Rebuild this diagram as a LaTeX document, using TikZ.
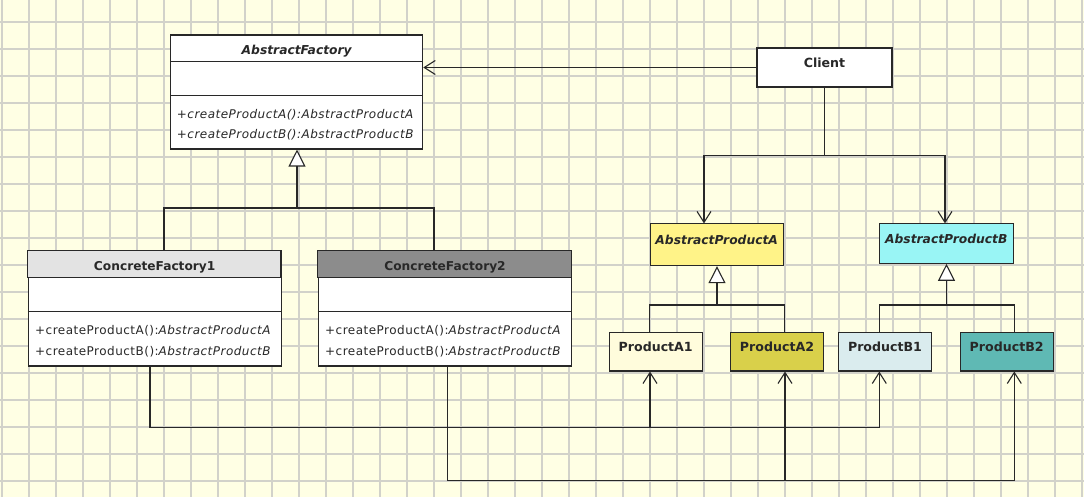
\documentclass[tikz,border=0pt]{standalone}
\usepackage{fontspec}
\setmainfont{DejaVu Sans}
\newfontfamily\methfont{DejaVu Sans}[LetterSpace=4]
\usetikzlibrary{arrows.meta}
\definecolor{paper}{RGB}{255,255,228}
\definecolor{gridgray}{RGB}{210,210,202}
\definecolor{ink}{RGB}{40,40,40}
\definecolor{hdrlight}{RGB}{227,227,227}
\definecolor{hdrdark}{RGB}{140,140,140}
\definecolor{prodA}{RGB}{255,243,136}
\definecolor{prodB}{RGB}{153,245,245}
\definecolor{prodAone}{RGB}{255,252,220}
\definecolor{prodAtwo}{RGB}{217,208,74}
\definecolor{prodBone}{RGB}{218,236,238}
\definecolor{prodBtwo}{RGB}{95,185,180}

\begin{document}
\begin{tikzpicture}[
		x=1pt, y=-1pt,
		cls/.style={draw=ink, line width=1.1pt, fill=white, inner sep=0pt},
		divider/.style={draw=ink, line width=1.1pt},
		clsname/.style={font=\fontsize{12.6}{14}\selectfont\bfseries, text=ink, inner sep=0pt, anchor=base},
		absname/.style={clsname, font=\fontsize{12.3}{14}\selectfont\bfseries\itshape},
		meth/.style={font=\fontsize{12}{14}\methfont, text=ink, inner sep=0pt, anchor=base west},
		absmeth/.style={meth, font=\fontsize{12}{14}\methfont\itshape},
		link/.style={draw=ink, line width=1.1pt},
		assoc/.style={link, -{Straight Barb[length=11pt, width=14pt, line width=1.1pt]}},
		gen/.style={link, -{Triangle[length=17pt, width=17pt, fill=white, line width=1.1pt]}}
	]
		% paper and grid
		\fill[paper] (0pt,0pt) rectangle (1084pt,-497pt);
		\useasboundingbox (0pt,0pt) rectangle (1084pt,-497pt);
		\foreach \i [evaluate=\i as \gx using 2+27*\i] in {0,...,40}
			\draw[gridgray, line width=1.1pt] (\gx pt,0pt) -- (\gx pt,-497pt);
		\foreach \j [evaluate=\j as \gy using -22-27*\j] in {0,...,17}
			\draw[gridgray, line width=1.1pt] (0pt,\gy pt) -- (1084pt,\gy pt);

		% factories
		\node[cls, minimum width=252, minimum height=114] (af) at (296.7,92) {};
		\draw[divider] (af.north west) ++(0,27) -- ++(252,0);
		\draw[divider] (af.north west) ++(0,61) -- ++(252,0);
		\node[absname] (af-name) at (296.7,54.5) {AbstractFactory};
		\node[absmeth] (af-m1) at (176.7,119) {+createProductA():AbstractProductA};
		\node[absmeth] (af-m2) at (176.7,138.3) {+createProductB():AbstractProductB};

		\node[cls, minimum width=252.7, minimum height=115] (cf1) at (154.7,308.5) {};
		\draw[divider, fill=hdrlight] (cf1.north west) rectangle ++(252.7,27);
		\draw[divider] (cf1.north west) ++(0,61) -- ++(252.7,0);
		\node[clsname, font=\fontsize{12.2}{14}\selectfont\bfseries] (cf1-name) at (154.7,270) {ConcreteFactory1};
		\node[meth] (cf1-m1) at (35,334.3) {+createProductA():\textit{AbstractProductA}};
		\node[meth] (cf1-m2) at (35,355) {+createProductB():\textit{AbstractProductB}};

		\node[cls, minimum width=253.4, minimum height=115] (cf2) at (445,308.5) {};
		\draw[divider, fill=hdrdark] (cf2.north west) rectangle ++(253.4,27);
		\draw[divider] (cf2.north west) ++(0,61) -- ++(253.4,0);
		\node[clsname, font=\fontsize{12.2}{14}\selectfont\bfseries] (cf2-name) at (445,270) {ConcreteFactory2};
		\node[meth] (cf2-m1) at (325,334.3) {+createProductA():\textit{AbstractProductA}};
		\node[meth] (cf2-m2) at (325,355) {+createProductB():\textit{AbstractProductB}};

		% client and products
		\node[cls, minimum width=135, minimum height=39] (client) at (824.5,67.5) {};
		\node[clsname] (client-name) at (824.5,67.7) {Client};

		\node[cls, fill=prodA, minimum width=133.3, minimum height=41.7] (apa) at (716.7,244.8) {};
		\node[absname] (apa-name) at (716.7,244.3) {AbstractProductA};
		\node[cls, fill=prodB, minimum width=134, minimum height=39.3] (apb) at (946.3,243.6) {};
		\node[absname] (apb-name) at (946.3,243.5) {AbstractProductB};

		\node[cls, fill=prodAone, minimum width=93.3, minimum height=38.7] (pa1) at (655.7,351.6) {};
		\node[clsname] (pa1-name) at (655.7,351.5) {ProductA1};
		\node[cls, fill=prodAtwo, minimum width=92.6, minimum height=38.7] (pa2) at (777,351.6) {};
		\node[clsname] (pa2-name) at (777,351.5) {ProductA2};
		\node[cls, fill=prodBone, minimum width=93.4, minimum height=38.7] (pb1) at (885,351.6) {};
		\node[clsname] (pb1-name) at (885,351.2) {ProductB1};
		\node[cls, fill=prodBtwo, minimum width=93.3, minimum height=38.7] (pb2) at (1006.7,351.6) {};
		\node[clsname] (pb2-name) at (1006.7,351.2) {ProductB2};

		% client uses
		\draw[assoc] (client.west) -- (client.west -| af.east);
		\draw[link] (client.south) -- ++(0,68) coordinate (cfork);
		\draw[assoc] (cfork) -| ([xshift=-12.7pt]apa.north);
		\draw[assoc] (cfork) -| ([xshift=-1.3pt]apb.north);

		% generalizations
		\coordinate (ffork) at (297,208);
		\draw[link] ([xshift=9.3pt]cf1.north) |- (ffork) -| ([xshift=-11pt]cf2.north);
		\draw[gen] (ffork) -- (ffork |- af.south);
		\coordinate (afork) at (717,305);
		\draw[link] ([xshift=-6.4pt]pa1.north) |- (afork) -| ([xshift=7.3pt]pa2.north);
		\draw[gen] (afork) -- (afork |- apa.south);
		\coordinate (bfork) at (946.5,305);
		\draw[link] ([xshift=-5.7pt]pb1.north) |- (bfork) -| ([xshift=7.6pt]pb2.north);
		\draw[gen] (bfork) -- (bfork |- apb.south);

		% factories create products
		\draw[link] ([xshift=-4.7pt]cf1.south) -- ++(0,61) coordinate (d1);
		\draw[assoc] (d1) -| ([xshift=-5.7pt]pa1.south);
		\draw[assoc] (d1) -| ([xshift=-5.7pt]pb1.south);
		\draw[link] ([xshift=2.3pt]cf2.south) -- ++(0,114) coordinate (d2);
		\draw[assoc] (d2) -| ([xshift=8pt]pa2.south);
		\draw[assoc] (d2) -| ([xshift=7.6pt]pb2.south);
	\end{tikzpicture}
\end{document}
